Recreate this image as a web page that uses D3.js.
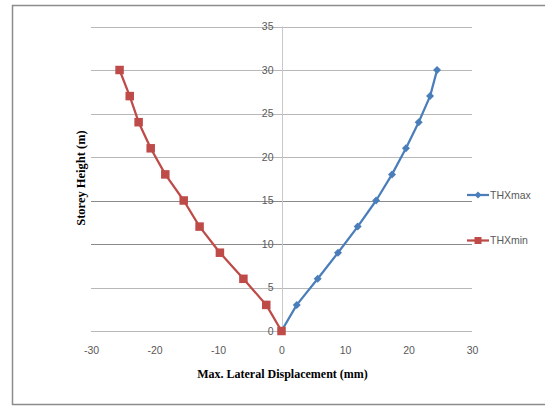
<!DOCTYPE html>
<html>
<head>
<meta charset="utf-8">
<script src="https://cdn.jsdelivr.net/npm/d3@7"></script>
<style>
  body { margin: 0; background: #fff; }
  svg { display: block; }
  .tick text { font-family: "Liberation Sans", Arial, sans-serif; font-size: 10.5px; fill: #595959; }
  .axisTitle { font-family: "Liberation Serif", "Times New Roman", serif; font-weight: bold; font-size: 12px; fill: #000; }
  .legendText { font-family: "Liberation Sans", Arial, sans-serif; font-size: 10.5px; fill: #595959; }
</style>
</head>
<body>
<div id="chart"></div>
<script>
// storey heights (m)
const heights = [0, 3, 6, 9, 12, 15, 18, 21, 24, 27, 30]
// max lateral displacement (mm)
const thxMax = [0, 2.4, 5.7, 8.9, 12.0, 14.9, 17.4, 19.6, 21.6, 23.4, 24.5]
const thxMin = [0, -2.4, -6.0, -9.7, -12.9, -15.4, -18.3, -20.6, -22.5, -23.9, -25.5]
const xTicks = [-30, -20, -10, 0, 10, 20, 30]
const yTicks = [0, 5, 10, 15, 20, 25, 30, 35]

const series = [
    { name: "THXmax", values: thxMax, color: "#4a7ebb", marker: "diamond" },
    { name: "THXmin", values: thxMin, color: "#be4b48", marker: "square" }
]

const width = 545, height = 407
const plot = { left: 91, right: 472, top: 26.5, bottom: 331 }

const svg = d3.select("#chart").append("svg")
    .attr("width", width)
    .attr("height", height)

// outer chart frame
svg.append("rect")
    .attr("x", 12.5).attr("y", 5.5)
    .attr("width", 560).attr("height", 399)
    .attr("fill", "none")
    .attr("stroke", "#8c8c8c")
    .attr("stroke-width", 1.5)

const xScale = d3.scaleLinear().domain([-30, 30]).range([plot.left, plot.right])
const yScale = d3.scaleLinear().domain([0, 35]).range([plot.bottom, plot.top])

// horizontal gridlines
svg.append("g")
    .selectAll("line")
    .data(yTicks)
    .join("line")
    .attr("x1", plot.left)
    .attr("x2", plot.right)
    .attr("y1", d => Math.round(yScale(d)) + 0.5)
    .attr("y2", d => Math.round(yScale(d)) + 0.5)
    .attr("stroke", d => (d === 10 || d === 15) ? "#8a8a8a" : "#b8b8b8")
    .attr("stroke-width", 1)

// vertical axis at x = 0
const zeroX = Math.round(xScale(0)) + 0.5
svg.append("line")
    .attr("x1", zeroX).attr("x2", zeroX)
    .attr("y1", plot.top).attr("y2", plot.bottom)
    .attr("stroke", "#c8c8c8")

// y tick labels next to the zero axis
const leftAxis = d3.axisLeft(yScale)
    .tickValues(yTicks)
    .tickFormat(d => String(d))
    .tickSize(0)
    .tickPadding(9)
svg.append("g")
    .attr("class", "leftAxis")
    .attr("transform", `translate(${zeroX},0)`)
    .call(leftAxis)
    .call(g => g.select(".domain").remove())

// x tick labels under the plot (plain hyphen minus like the original)
const bottomAxis = d3.axisBottom(xScale)
    .tickValues(xTicks)
    .tickFormat(d => String(d))
    .tickSize(0)
    .tickPadding(16)
svg.append("g")
    .attr("class", "bottomAxis")
    .attr("transform", `translate(0,${plot.bottom})`)
    .call(bottomAxis)
    .call(g => g.select(".domain").remove())

// axis titles
svg.append("text")
    .attr("class", "axisTitle")
    .attr("x", zeroX)
    .attr("y", 378)
    .attr("text-anchor", "middle")
    .text("Max. Lateral Displacement (mm)")

svg.append("text")
    .attr("class", "axisTitle")
    .attr("transform", `translate(85, 178) rotate(-90)`)
    .attr("text-anchor", "middle")
    .style("font-size", "12.5px")
    .text("Storey Height (m)")

const line = d3.line()
    .x(d => xScale(d.x))
    .y(d => yScale(d.y))

const drawMarker = (g, type, color, x, y, size) => {
    if (type === "square") {
        g.append("rect")
            .attr("x", x - size / 2).attr("y", y - size / 2)
            .attr("width", size).attr("height", size)
            .attr("fill", color)
    } else {
        g.append("path")
            .attr("d", `M${x},${y - size / 2}L${x + size / 2},${y}L${x},${y + size / 2}L${x - size / 2},${y}Z`)
            .attr("fill", color)
    }
}

series.forEach(s => {
    const pts = heights.map((h, i) => ({ x: s.values[i], y: h }))
    const g = svg.append("g")
    g.append("path")
        .datum(pts)
        .attr("d", line)
        .attr("fill", "none")
        .attr("stroke", s.color)
        .attr("stroke-width", 2.25)
        .attr("stroke-linejoin", "round")
    pts.forEach(p => drawMarker(g, s.marker, s.color, xScale(p.x), yScale(p.y), s.marker === "square" ? 8.5 : 8))
})

// legend
const legend = svg.append("g")
series.forEach((s, i) => {
    const ly = 195 + i * 45.5
    legend.append("line")
        .attr("x1", 467).attr("x2", 489)
        .attr("y1", ly).attr("y2", ly)
        .attr("stroke", s.color)
        .attr("stroke-width", 2.25)
    drawMarker(legend, s.marker, s.color, 478, ly, 7)
    legend.append("text")
        .attr("class", "legendText")
        .attr("x", 490)
        .attr("y", ly)
        .attr("dy", "0.35em")
        .text(s.name)
})
</script>
</body>
</html>
